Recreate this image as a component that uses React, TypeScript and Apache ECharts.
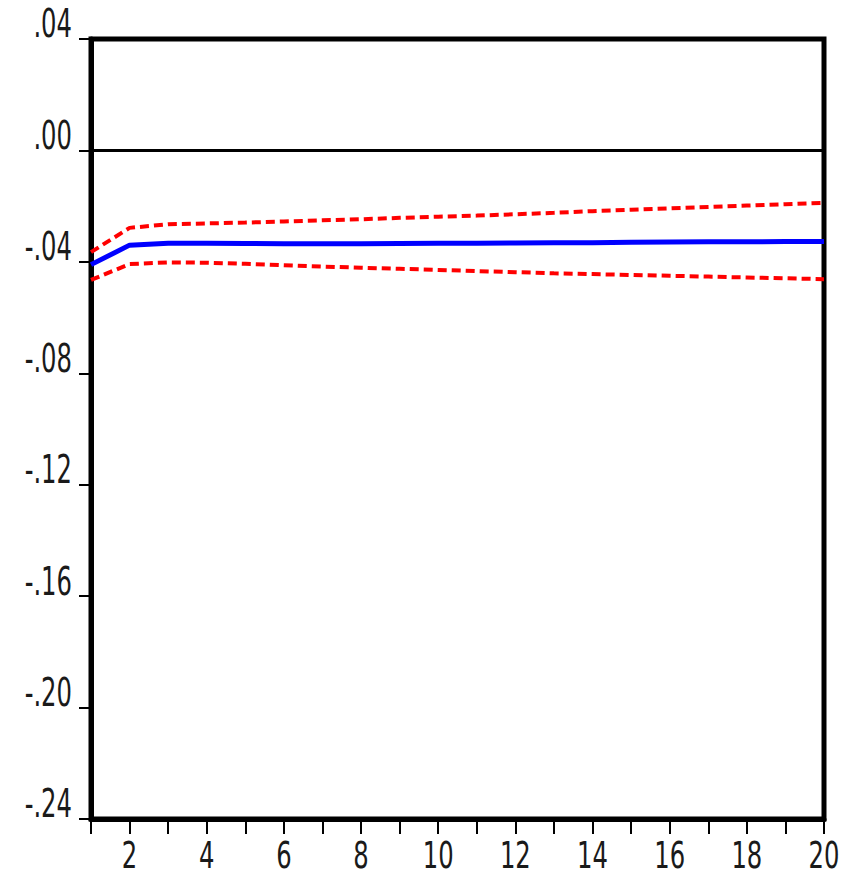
import React, { useEffect, useRef } from "react";
import * as echarts from "echarts";

// Impulse response over 20 periods with ±2 S.E. bands
const periods: number[] = Array.from({ length: 20 }, (_, i) => i + 1);

const response: number[] = [
  -0.041, -0.034, -0.0333, -0.0333, -0.0334, -0.0335, -0.0335, -0.0335, -0.0334, -0.0333,
  -0.0333, -0.0332, -0.0331, -0.0331, -0.033, -0.0329, -0.0328, -0.0328, -0.0327, -0.0327,
];

const upperBand: number[] = [
  -0.0365, -0.0278, -0.0265, -0.0262, -0.0259, -0.0255, -0.0251, -0.0247, -0.0242, -0.0238,
  -0.0234, -0.0229, -0.0224, -0.0218, -0.0213, -0.0208, -0.0203, -0.0198, -0.0193, -0.0188,
];

const lowerBand: number[] = [
  -0.0465, -0.0408, -0.0402, -0.0403, -0.0407, -0.0412, -0.0417, -0.0421, -0.0425, -0.0429,
  -0.0433, -0.0437, -0.0441, -0.0444, -0.0447, -0.045, -0.0453, -0.0456, -0.0459, -0.0462,
];

const yTicks: number[] = [0.04, 0, -0.04, -0.08, -0.12, -0.16, -0.2, -0.24];
const yTickLabels: string[] = [".04", ".00", "-.04", "-.08", "-.12", "-.16", "-.20", "-.24"];
const xTickLabels: number[] = [2, 4, 6, 8, 10, 12, 14, 16, 18, 20];

const FONT = "'Liberation Sans Narrow', 'DejaVu Sans Condensed', 'Liberation Sans', sans-serif";

export default function App() {
  const ref = useRef<HTMLDivElement>(null);

  useEffect(() => {
    if (!ref.current) return;
    const chart = echarts.init(ref.current, null, { renderer: "svg" });

    const pair = (arr: number[]) => periods.map((p, i) => [p, arr[i]]);

    chart.setOption({
      animation: false,
      backgroundColor: "#ffffff",
      grid: {
        left: 91,
        right: 31,
        top: 39,
        bottom: 57,
        show: true,
        borderColor: "#000",
        borderWidth: 5,
        backgroundColor: "transparent",
      },
      xAxis: {
        type: "value",
        min: 1,
        max: 20,
        interval: 1,
        axisLine: { show: true, onZero: false, lineStyle: { color: "#000", width: 5 } },
        axisTick: { show: true, length: 15, lineStyle: { color: "#000", width: 2 } },
        axisLabel: { show: false },
        splitLine: { show: false },
      },
      yAxis: {
        type: "value",
        min: -0.24,
        max: 0.04,
        interval: 0.04,
        axisLine: { show: true, onZero: false, lineStyle: { color: "#000", width: 5 } },
        axisTick: { show: true, length: 12, lineStyle: { color: "#000", width: 2 } },
        axisLabel: { show: false },
        splitLine: { show: false },
      },
      series: [
        {
          type: "line",
          data: pair(upperBand),
          symbol: "none",
          lineStyle: { color: "#ff0000", width: 4, type: [9, 5] },
        },
        {
          type: "line",
          data: pair(lowerBand),
          symbol: "none",
          lineStyle: { color: "#ff0000", width: 4, type: [9, 5] },
        },
        {
          type: "line",
          data: pair(response),
          symbol: "none",
          lineStyle: { color: "#0000ff", width: 5 },
          markLine: {
            silent: true,
            symbol: "none",
            label: { show: false },
            lineStyle: { color: "#000", width: 3, type: "solid" },
            data: [{ yAxis: 0 }],
          },
        },
      ],
    });

    // Tall, condensed tick labels placed at the axis tick positions
    const labelStyle = {
      fontFamily: FONT,
      fontSize: 27,
      lineHeight: 24,
      fill: "#1a1a1a",
      verticalAlign: "middle",
    };
    const graphics: any[] = [];
    yTicks.forEach((v, i) => {
      const [, py] = chart.convertToPixel({ gridIndex: 0 }, [1, v]) as number[];
      graphics.push({
        type: "text",
        x: 72,
        y: py - 15,
        scaleY: 1.45,
        style: { ...labelStyle, text: yTickLabels[i], align: "right" },
      });
    });
    xTickLabels.forEach((v) => {
      const [px, py] = chart.convertToPixel({ gridIndex: 0 }, [v, -0.24]) as number[];
      graphics.push({
        type: "text",
        x: px,
        y: py + 36,
        scaleY: 1.4,
        style: { ...labelStyle, text: String(v), align: "center" },
      });
    });
    chart.setOption({ graphic: graphics });

    return () => chart.dispose();
  }, []);

  return (
    <div
      ref={ref}
      style={{ position: "fixed", left: 0, top: 0, width: 855, height: 876, background: "#fff" }}
    />
  );
}
